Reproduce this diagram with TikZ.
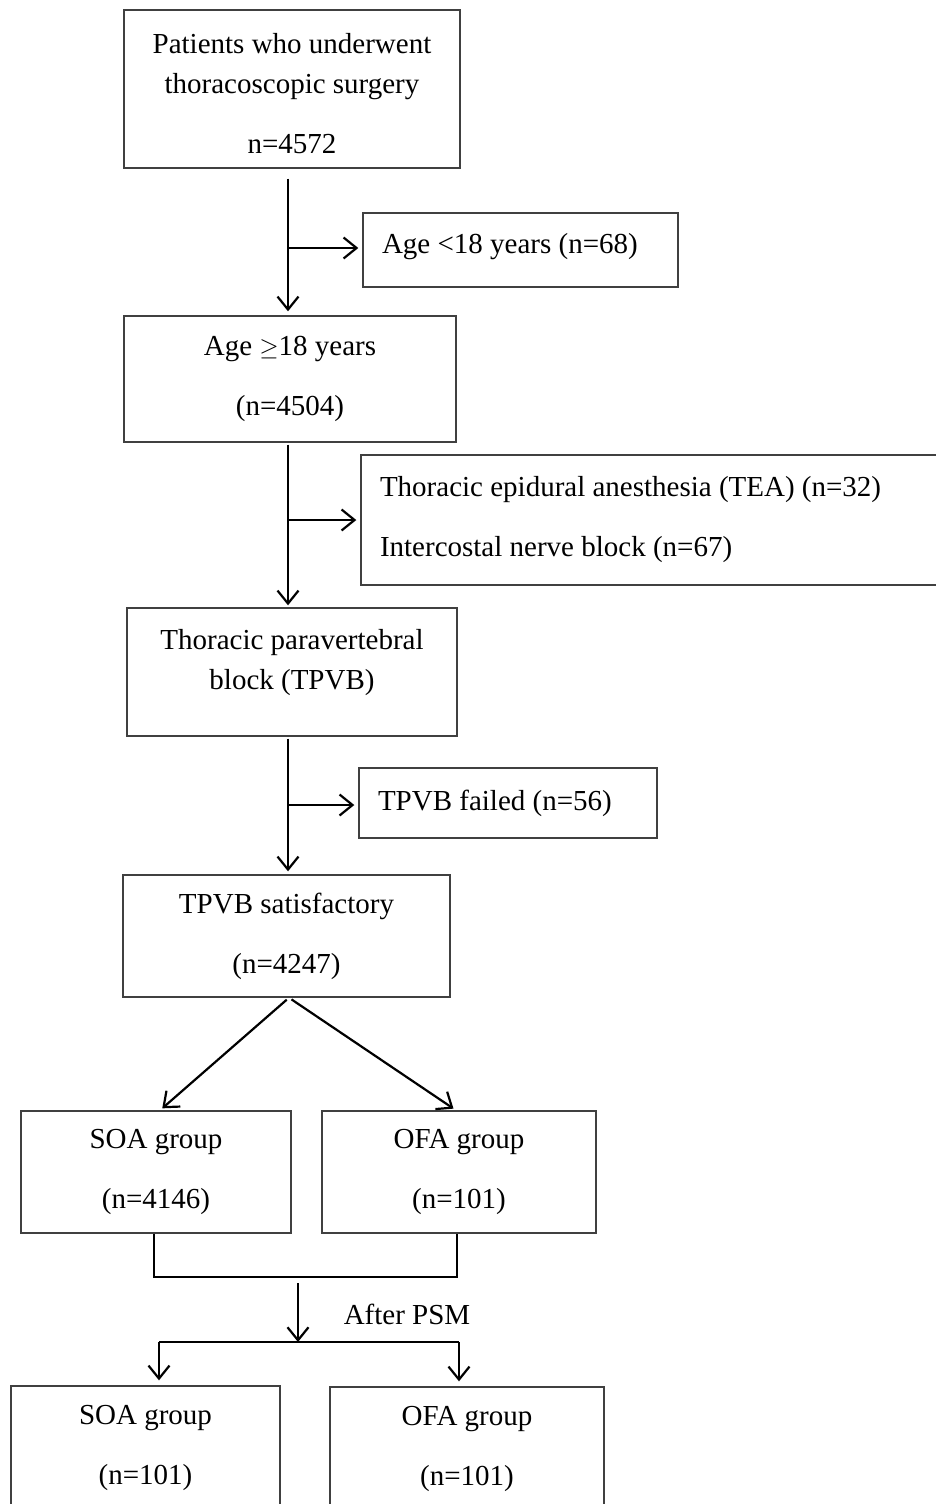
\documentclass[tikz,border=0pt]{standalone}
\usepackage{fontspec}
\setmainfont{Liberation Serif}
\usetikzlibrary{arrows.meta}

\tikzset{
  box/.style={draw=black!75, line width=1.4pt, inner sep=0pt, align=center,
    font=\fontsize{29}{40}\selectfont},
  sidebox/.style={box, align=left, inner xsep=19pt,
    execute at begin node={\spaceskip=0pt\xspaceskip=0pt}},
  arr/.style={line width=2.2pt, -{Straight Barb[length=13pt,width=21pt,line width=2.2pt]}},
  link/.style={line width=2pt}
}

\begin{document}
\begin{tikzpicture}[x=1pt,y=-1pt]
\useasboundingbox (0,0) rectangle (935,1504);

% main column
\node[box, minimum width=336pt, minimum height=158pt, text height=128pt, text depth=0pt] (pts) at (292,89)
  {Patients who underwent\\thoracoscopic surgery\\[20pt]n=4572};
\node[box, minimum width=332pt, minimum height=126pt] (adult) at (290,379)
  {Age $\geq$18 years\\[20pt](n=4504)};
\node[box, minimum width=330pt, minimum height=128pt, text depth=26pt] (tpvb) at (292,672)
  {Thoracic paravertebral\\block (TPVB)};
\node[box, minimum width=327pt, minimum height=122pt] (tpvbok) at (286.5,936)
  {TPVB satisfactory\\[20pt](n=4247)};

% excluded
\node[sidebox, text width=277pt, minimum height=74pt, text depth=13pt] (young) at (520.5,250)
  {Age <18 years (n=68)};
\node[sidebox, text width=540pt, minimum height=130pt] (other) at (650,520)
  {Thoracic epidural anesthesia (TEA) (n=32)\\[20pt]Intercostal nerve block (n=67)};
\node[sidebox, text width=260pt, minimum height=70pt] (failed) at (508,803)
  {TPVB failed (n=56)};

% groups
\node[box, minimum width=270pt, minimum height=122pt] (soa) at (156,1172)
  {SOA group\\[20pt](n=4146)};
\node[box, minimum width=274pt, minimum height=122pt] (ofa) at (459,1172)
  {OFA group\\[20pt](n=101)};
\node[box, minimum width=269pt, minimum height=124pt] (soapsm) at (145.5,1448)
  {SOA group\\[20pt](n=101)};
\node[box, minimum width=274pt, minimum height=124pt] (ofapsm) at (467,1449)
  {OFA group\\[20pt](n=101)};

\draw[arr, shorten <=10pt, shorten >=4pt] (pts.south -| 288,0) -- (adult.north -| 288,0);
\draw[arr, shorten >=4pt] (288,248) -- (young.west |- 288,248);
\draw[arr, shorten <=2pt, shorten >=2pt] (adult.south -| 288,0) -- (tpvb.north -| 288,0);
\draw[arr, shorten >=4pt] (288,520) -- (other.west);
\draw[arr, shorten <=2pt, shorten >=3pt] (tpvb.south -| 288,0) -- (tpvbok.north -| 288,0);
\draw[arr, shorten >=4pt] (288,805) -- (failed.west |- 288,805);

\draw[arr, shorten <=3pt, shorten >=3pt] (tpvbok.south -| 289,0) -- (soa.north -| 160,0);
\draw[arr, shorten <=3pt, shorten >=3pt] (tpvbok.south -| 289,0) -- (ofa.north -| 456,0);

% PSM
\draw[link] (soa.south -| 154,0) -- ++(0,43) -| (ofa.south -| 457,0);
\coordinate (merge) at (298,1283);
\coordinate (split) at (298,1342);
\draw[arr] (merge) -- (split);
\node[font=\fontsize{29}{40}\selectfont] (psm) at (407,1314) {After PSM};
\coordinate (splitL) at (159,1342);
\coordinate (splitR) at (459,1342);
\draw[link] (splitL) -- (splitR);
\draw[arr, shorten >=5pt] (splitL) -- (splitL |- soapsm.north);
\draw[arr, shorten >=5pt] (splitR) -- (splitR |- ofapsm.north);
\end{tikzpicture}
\end{document}
